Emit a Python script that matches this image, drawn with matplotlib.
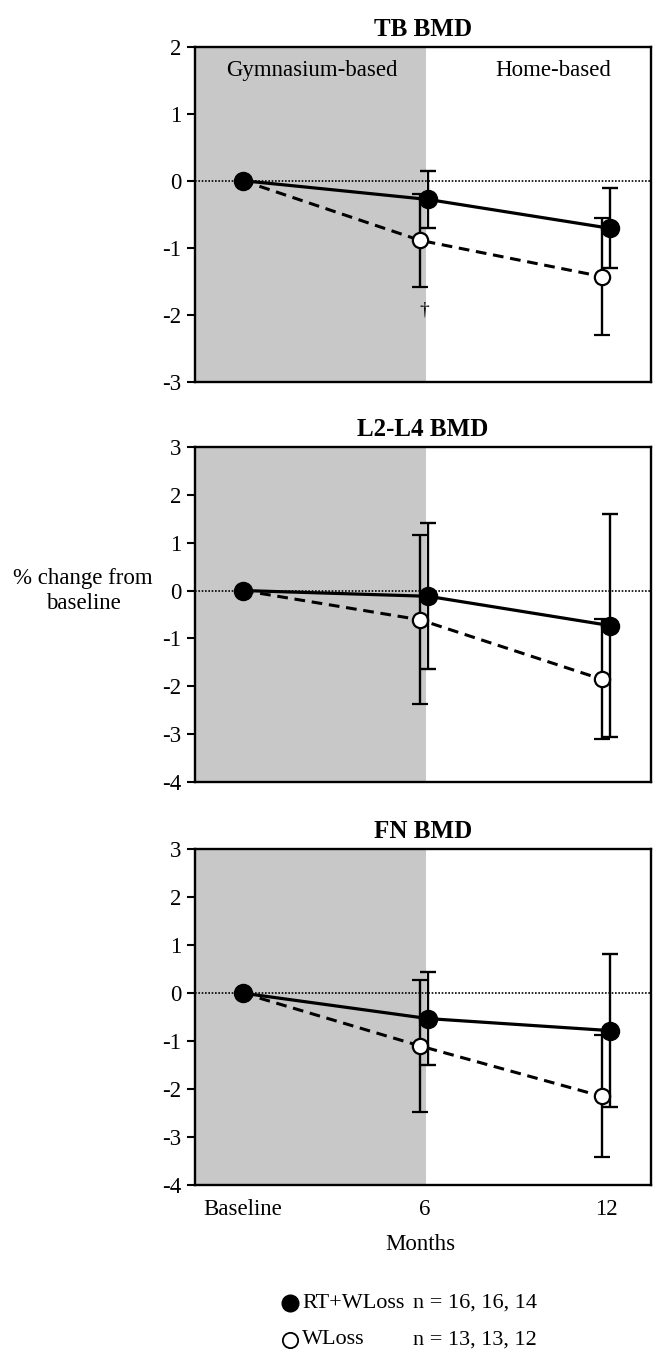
import matplotlib.pyplot as plt
from matplotlib.lines import Line2D

plt.rcParams['font.family'] = ['Liberation Serif', 'DejaVu Serif']
plt.rcParams['axes.unicode_minus'] = False

timepoints = ['Baseline', '6', '12']
panel_titles = ['TB BMD', 'L2-L4 BMD', 'FN BMD']
panel_ylims = [(-3, 2), (-4, 3), (-4, 3)]

# mean % change and error, RT+WLoss (filled) and WLoss (open)
tb_rt = [0, -0.28, -0.71]
tb_rt_err = [0, 0.42, 0.60]
tb_wl = [0, -0.89, -1.43]
tb_wl_err = [0, 0.69, 0.87]

l24_rt = [0, -0.12, -0.73]
l24_rt_err = [0, 1.52, 2.33]
l24_wl = [0, -0.61, -1.85]
l24_wl_err = [0, 1.76, 1.25]

fn_rt = [0, -0.53, -0.78]
fn_rt_err = [0, 0.97, 1.60]
fn_wl = [0, -1.10, -2.15]
fn_wl_err = [0, 1.37, 1.27]

rt_label = 'RT+WLoss'
wl_label = 'WLoss'
rt_n = 'n = 16, 16, 14'
wl_n = 'n = 13, 13, 12'

panels = [(tb_rt, tb_rt_err, tb_wl, tb_wl_err),
          (l24_rt, l24_rt_err, l24_wl, l24_wl_err),
          (fn_rt, fn_rt_err, fn_wl, fn_wl_err)]

W, H = 653, 1350
fig = plt.figure(figsize=(W / 100, H / 100), dpi=100)

boxes = [(46.7, 381.7), (446.7, 782.3), (849.3, 1185.0)]
x = [0, 1, 2]
x_rt = [0, 1.02, 2.02]
x_wl = [0, 0.975, 1.975]

for i, (rt, rt_err, wl, wl_err) in enumerate(panels):
    top, bot = boxes[i]
    ax = fig.add_axes([195 / W, 1 - bot / H, 456 / W, (bot - top) / H])
    ax.set_xlim(-0.264, 2.247)
    ax.set_ylim(*panel_ylims[i])
    ax.axvspan(-0.3, 1.01, color='#c8c8c8', lw=0, zorder=0)
    ax.axhline(0, color='black', lw=1.2, ls=(0, (1, 1)), zorder=1)

    ax.errorbar(x_wl, wl, yerr=wl_err, color='black', lw=2.2, ls='--',
                dashes=(3.5, 2.2), marker='o', ms=11, mfc='white', mec='black',
                mew=1.6, capsize=6, capthick=1.7, elinewidth=1.7, zorder=3)
    ax.errorbar(x_rt, rt, yerr=rt_err, color='black', lw=2.3, marker='o',
                ms=13, mfc='black', mec='black', capsize=6, capthick=1.7,
                elinewidth=1.7, zorder=4)

    ax.set_title(panel_titles[i], fontsize=18, fontweight='bold', pad=8)
    ax.set_yticks(range(panel_ylims[i][0], panel_ylims[i][1] + 1))
    ax.tick_params(axis='y', labelsize=16.5, direction='out', length=6,
                   width=1.5, pad=4)
    for s in ax.spines.values():
        s.set_linewidth(1.7)
    if i == 2:
        ax.set_xticks(x)
        ax.set_xticklabels(timepoints)
        ax.tick_params(axis='x', labelsize=16.5, length=0, pad=10)
    else:
        ax.set_xticks([])
    if i == 0:
        ax.text(0.38, 1.65, 'Gymnasium-based', fontsize=16.5,
                ha='center', va='center')
        ax.text(1.71, 1.65, 'Home-based', fontsize=16.5,
                ha='center', va='center')
        ax.text(1.0, -1.93, '\u2020', fontsize=14, ha='center', va='center')

fig.text(83 / W, 1 - 591 / H, '% change from\nbaseline', fontsize=16.5,
         ha='center', va='center', multialignment='center')
fig.text(420 / W, 1 - 1245 / H, 'Months', fontsize=16.5,
         ha='center', va='center')

fig.add_artist(Line2D([290 / W], [1 - 1303 / H], marker='o', ms=12,
                      mfc='black', mec='black', transform=fig.transFigure))
fig.add_artist(Line2D([290 / W], [1 - 1340 / H], marker='o', ms=11,
                      mfc='white', mec='black', mew=1.3,
                      transform=fig.transFigure))
fig.text(302 / W, 1 - 1303 / H, rt_label, fontsize=16, va='center')
fig.text(302 / W, 1 - 1340 / H, wl_label, fontsize=16, va='center')
fig.text(413 / W, 1 - 1303 / H, rt_n, fontsize=16, va='center')
fig.text(413 / W, 1 - 1340 / H, wl_n, fontsize=16, va='center')

fig.savefig('out.png', dpi=100)
